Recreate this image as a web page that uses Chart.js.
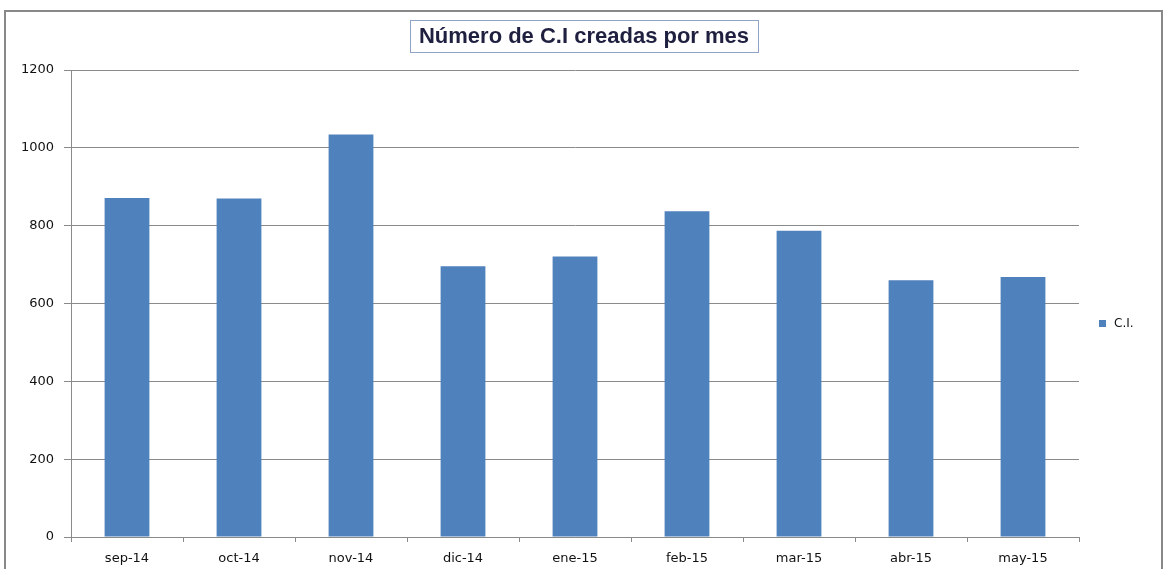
<!DOCTYPE html>
<html>
<head>
<meta charset="utf-8">
<script src="https://cdn.jsdelivr.net/npm/chart.js@4/dist/chart.umd.min.js"></script>
<style>
  body { margin: 0; background: #fff; }
</style>
</head>
<body>
<canvas id="ciChart" width="1165" height="569"></canvas>
<script>
// Data
const months = ['sep-14', 'oct-14', 'nov-14', 'dic-14', 'ene-15', 'feb-15', 'mar-15', 'abr-15', 'may-15'];
const ciCounts = [871, 870, 1034, 696, 721, 837, 787, 660, 668];
const yTicks = [0, 200, 400, 600, 800, 1000, 1200];
const seriesLabel = 'C.I.';
const chartTitle = 'Número de C.I creadas por mes';

const barColor = '#4f81bd';
const gridColor = '#8a8a8a';
const tickFont = { family: 'DejaVu Sans', size: 13 };

// outer frame, title box and legend, drawn like Excel does them
const excelDecor = {
    id: 'excelDecor',
    beforeDraw(chart) {
        const c = chart.ctx;
        c.save();
        c.strokeStyle = '#888';
        c.lineWidth = 2;
        c.strokeRect(5, 11, 1157, 620);
        c.restore();
    },
    afterDraw(chart) {
        const c = chart.ctx;
        c.save();
        // title
        c.font = 'bold 22px "Liberation Sans"';
        c.textAlign = 'center';
        c.textBaseline = 'middle';
        c.fillStyle = '#1f2040';
        const tw = c.measureText(chartTitle).width;
        const cx = 584;
        c.strokeStyle = '#8fa3c6';
        c.lineWidth = 1;
        c.strokeRect(Math.round(cx - tw / 2 - 9) + 0.5, 20.5, Math.round(tw + 18), 32);
        c.fillText(chartTitle, cx, 37);
        // legend
        const ds = chart.data.datasets[0];
        c.fillStyle = ds.backgroundColor;
        c.fillRect(1099, 320, 7, 7);
        c.font = '12px "DejaVu Sans"';
        c.textAlign = 'left';
        c.fillStyle = '#111';
        c.fillText(ds.label, 1114, 324);
        c.restore();
    }
};

const ctx = document.getElementById('ciChart').getContext('2d');
const ciChart = new Chart(ctx, {
    type: 'bar',
    data: {
        labels: months,
        datasets: [{
            label: seriesLabel,
            data: ciCounts,
            backgroundColor: barColor,
            borderWidth: 0,
            barPercentage: 0.4,
            categoryPercentage: 1.0
        }]
    },
    options: {
        responsive: false,
        animation: false,
        layout: {
            padding: { left: 0, top: 70, right: 86, bottom: 0 }
        },
        plugins: {
            legend: { display: false },
            title: { display: false },
            tooltip: { enabled: false }
        },
        scales: {
            x: {
                offset: true,
                grid: {
                    offset: true,
                    drawOnChartArea: false,
                    drawTicks: true,
                    tickLength: 5,
                    color: gridColor
                },
                border: { display: true, color: gridColor, width: 1 },
                ticks: {
                    font: tickFont,
                    color: '#111',
                    padding: 9,
                    maxRotation: 0
                },
                afterFit(scale) { scale.height = 32; }
            },
            y: {
                min: 0,
                max: 1200,
                afterBuildTicks(scale) {
                    scale.ticks = yTicks.map(v => ({ value: v }));
                },
                grid: {
                    color: gridColor,
                    drawTicks: true,
                    tickLength: 7
                },
                border: { display: true, color: gridColor, width: 1 },
                ticks: {
                    font: tickFont,
                    color: '#111',
                    padding: 10,
                    callback: v => String(v)
                },
                afterFit(scale) { scale.width = 71; }
            }
        }
    },
    plugins: [excelDecor]
});
</script>
</body>
</html>
